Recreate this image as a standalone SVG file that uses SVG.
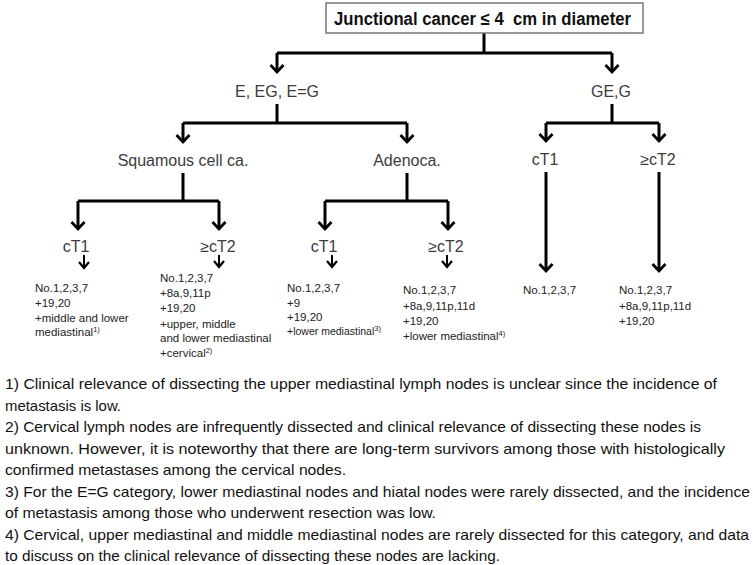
<svg xmlns="http://www.w3.org/2000/svg" width="753" height="565" viewBox="0 0 753 565">
<style>
.lbl{font-family:"Liberation Sans",Arial,sans-serif;font-size:16px;fill:#3c3c3c;text-anchor:middle}
.blk{font-family:"Liberation Sans",Arial,sans-serif;font-size:11.5px;fill:#222}
.sup{font-size:7.5px}
.fn{font-family:"Liberation Sans",Arial,sans-serif;font-size:15px;fill:#111}
.ln{stroke:#000;stroke-width:3;fill:none}
.ar{stroke:#000;stroke-width:3;fill:none;marker-end:url(#ah)}
.sar{stroke:#000;stroke-width:2;fill:none;marker-end:url(#sah)}
.title{font-family:"Liberation Sans",Arial,sans-serif;font-size:18px;font-weight:bold;fill:#111}
</style>
<defs>
<marker id="ah" markerUnits="userSpaceOnUse" viewBox="-10 -10 20 20" markerWidth="20" markerHeight="20" refX="0" refY="0" orient="auto">
<path d="M-7,-6.5 L0,0 L-7,6.5" fill="none" stroke="#000" stroke-width="2.8" stroke-linejoin="miter"/>
</marker>
<marker id="sah" markerUnits="userSpaceOnUse" viewBox="-10 -10 20 20" markerWidth="20" markerHeight="20" refX="0" refY="0" orient="auto">
<path d="M-6,-5 L0,0 L-6,5" fill="none" stroke="#000" stroke-width="2.2"/>
</marker>
</defs>

<g id="connectors">
<path class="ln" d="M484,33 V53 M277,53 H612"/>
<path class="ar" d="M277,53 V72"/>
<path class="ar" d="M612,53 V72"/>
<path class="ln" d="M277,104 V123 M183,123 H407"/>
<path class="ar" d="M183,123 V142"/>
<path class="ar" d="M407,123 V142"/>
<path class="ln" d="M612,104 V123 M546,123 H659"/>
<path class="ar" d="M546,123 V141"/>
<path class="ar" d="M659,123 V141"/>
<path class="ln" d="M183,173 V201 M78,201 H219"/>
<path class="ar" d="M78,201 V229"/>
<path class="ar" d="M219,201 V229"/>
<path class="ln" d="M407,173 V201 M325,201 H448"/>
<path class="ar" d="M325,201 V229"/>
<path class="ar" d="M448,201 V229"/>
<path class="ar" d="M546,172 V271"/>
<path class="ar" d="M659,172 V271"/>
<path class="sar" d="M84,255 V268"/>
<path class="sar" d="M219,255 V267"/>
<path class="sar" d="M332,255 V267"/>
<path class="sar" d="M447,255 V267"/>
</g>

<g id="root">
<rect x="326" y="3" width="317" height="30" fill="#fff" stroke="#777" stroke-width="1.5"/>
<text class="title" x="334" y="25" textLength="297" lengthAdjust="spacingAndGlyphs" xml:space="preserve">Junctional cancer ≤ 4  cm in diameter</text>
</g>

<g id="e-eg"><text class="lbl" x="277" y="97">E, EG, E=G</text></g>
<g id="ge-g"><text class="lbl" x="611" y="97">GE,G</text></g>
<g id="squamous"><text class="lbl" x="183" y="166">Squamous cell ca.</text></g>
<g id="adeno"><text class="lbl" x="407" y="166">Adenoca.</text></g>
<g id="ge-ct1"><text class="lbl" x="545" y="165">cT1</text></g>
<g id="ge-ct2"><text class="lbl" x="658" y="165">≥cT2</text></g>
<g id="sq-ct1"><text class="lbl" x="76" y="252">cT1</text></g>
<g id="sq-ct2"><text class="lbl" x="218" y="252">≥cT2</text></g>
<g id="ad-ct1"><text class="lbl" x="324" y="252">cT1</text></g>
<g id="ad-ct2"><text class="lbl" x="446" y="252">≥cT2</text></g>

<g id="sq-ct1-nodes">
<text class="blk" x="35" y="292">No.1,2,3,7</text>
<text class="blk" x="35" y="307">+19,20</text>
<text class="blk" x="35" y="322">+middle and lower</text>
<text class="blk" x="35" y="336">mediastinal<tspan class="sup" dy="-4">1)</tspan></text>
</g>
<g id="sq-ct2-nodes">
<text class="blk" x="160" y="282">No.1,2,3,7</text>
<text class="blk" x="160" y="297">+8a,9,11p</text>
<text class="blk" x="160" y="312">+19,20</text>
<text class="blk" x="160" y="328">+upper, middle</text>
<text class="blk" x="160" y="342">and lower mediastinal</text>
<text class="blk" x="160" y="357">+cervical<tspan class="sup" dy="-4">2)</tspan></text>
</g>
<g id="ad-ct1-nodes">
<text class="blk" x="287" y="292">No.1,2,3,7</text>
<text class="blk" x="287" y="307">+9</text>
<text class="blk" x="287" y="321">+19,20</text>
<text class="blk" x="287" y="335" style="font-size:10.5px">+lower mediastinal<tspan class="sup" dy="-4">3)</tspan></text>
</g>
<g id="ad-ct2-nodes">
<text class="blk" x="403" y="294">No.1,2,3,7</text>
<text class="blk" x="403" y="310">+8a,9,11p,11d</text>
<text class="blk" x="403" y="325">+19,20</text>
<text class="blk" x="403" y="340">+lower mediastinal<tspan class="sup" dy="-4">4)</tspan></text>
</g>
<g id="ge-ct1-nodes">
<text class="blk" x="523" y="294">No.1,2,3,7</text>
</g>
<g id="ge-ct2-nodes">
<text class="blk" x="619" y="294">No.1,2,3,7</text>
<text class="blk" x="619" y="310">+8a,9,11p,11d</text>
<text class="blk" x="619" y="325">+19,20</text>
</g>

<g id="footnotes">
<text class="fn" x="5" y="389" textLength="712" lengthAdjust="spacingAndGlyphs">1) Clinical relevance of dissecting the upper mediastinal lymph nodes is unclear since the incidence of</text>
<text class="fn" x="5" y="410.5" textLength="116" lengthAdjust="spacingAndGlyphs">metastasis is low.</text>
<text class="fn" x="5" y="432" textLength="696" lengthAdjust="spacingAndGlyphs">2) Cervical lymph nodes are infrequently dissected and clinical relevance of dissecting these nodes is</text>
<text class="fn" x="5" y="453.5" textLength="720" lengthAdjust="spacingAndGlyphs">unknown. However, it is noteworthy that there are long-term survivors among those with histologically</text>
<text class="fn" x="5" y="475" textLength="341" lengthAdjust="spacingAndGlyphs">confirmed metastases among the cervical nodes.</text>
<text class="fn" x="5" y="496.5" textLength="745" lengthAdjust="spacingAndGlyphs">3) For the E=G category, lower mediastinal nodes and hiatal nodes were rarely dissected, and the incidence</text>
<text class="fn" x="5" y="518" textLength="431" lengthAdjust="spacingAndGlyphs">of metastasis among those who underwent resection was low.</text>
<text class="fn" x="5" y="539.5" textLength="744" lengthAdjust="spacingAndGlyphs">4) Cervical, upper mediastinal and middle mediastinal nodes are rarely dissected for this category, and data</text>
<text class="fn" x="5" y="561" textLength="495" lengthAdjust="spacingAndGlyphs">to discuss on the clinical relevance of dissecting these nodes are lacking.</text>
</g>
</svg>
